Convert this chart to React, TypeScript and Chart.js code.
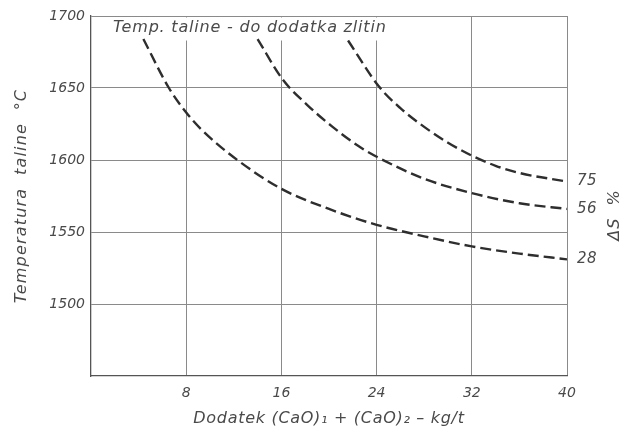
import React, { useEffect, useRef } from 'react';
import { Chart, registerables } from 'chart.js';

Chart.register(...registerables);

// Axis ticks
const xTicks = [8, 16, 24, 32, 40];
const yTicks = [1500, 1550, 1600, 1650, 1700];

// ΔS % curves: addition (kg/t) vs. melt temperature (°C)
const curve28X = [4.4, 6.55, 8, 9.3, 12.3, 16, 20, 24, 28, 32, 36, 40];
const curve28Y = [1684, 1650, 1633, 1621, 1600, 1580, 1566, 1555, 1547, 1540, 1535, 1531];

const curve56X = [14.0, 16.1, 18.2, 20.3, 22.6, 24.3, 28, 32, 36, 40];
const curve56Y = [1684, 1656, 1638, 1623, 1609, 1601, 1587, 1577, 1570, 1566];

const curve75X = [21.6, 24.2, 26.0, 28, 30, 32, 34, 36, 40];
const curve75Y = [1683, 1651, 1636, 1623, 1612, 1603, 1596, 1591, 1585];

const seriesLabels = ['28', '56', '75'];

const headingText = 'Temp. taline - do dodatka zlitin';
const xTitle = 'Dodatek (CaO)\u2081 + (CaO)\u2082 \u2013 kg/t';
const yTitle = 'Temperatura  taline  \u00B0C';
const sideTitle = '\u0394S  %';

const TEXT = '#4a4a4a';
const LINE = '#2e2e2e';
const GRID = '#8a8a8a';
const FONT_FAMILY = '"DejaVu Sans", sans-serif';

const toPoints = (xs: number[], ys: number[]) => xs.map((x, i) => ({ x, y: ys[i] }));

function drawText(
  ctx: any,
  text: string,
  x: number,
  y: number,
  opts: { size: number; spacing: number; align: string; rotate?: boolean },
) {
  ctx.save();
  ctx.fillStyle = TEXT;
  ctx.font = `italic ${opts.size}px ${FONT_FAMILY}`;
  ctx.letterSpacing = `${opts.spacing}px`;
  ctx.textBaseline = 'middle';
  ctx.textAlign = opts.align;
  ctx.translate(x, y);
  if (opts.rotate) ctx.rotate(-Math.PI / 2);
  ctx.fillText(text, 0, 0);
  ctx.restore();
}

const annotations = {
  id: 'annotations',
  beforeDatasetsDraw(chart: any) {
    const { ctx, chartArea } = chart;
    ctx.save();
    // heading sits on a white band that interrupts the grid
    ctx.fillStyle = '#ffffff';
    ctx.fillRect(chartArea.left + 12, chartArea.top + 1.5, 292, 23);
    ctx.restore();
    drawText(ctx, headingText, chartArea.left + 22, chartArea.top + 12, {
      size: 16,
      spacing: 0.8,
      align: 'left',
    });
  },
  afterDraw(chart: any) {
    const { ctx, chartArea, scales } = chart;
    const ends = [curve28Y, curve56Y, curve75Y];
    ends.forEach((ys, i) => {
      const y = scales.y.getPixelForValue(ys[ys.length - 1]);
      drawText(ctx, seriesLabels[i], chartArea.right + 10, y, { size: 15, spacing: 0.5, align: 'left' });
    });

    // side title for the curve labels
    drawText(ctx, sideTitle, chartArea.right + 48, chartArea.top + 199, {
      size: 16,
      spacing: 1,
      align: 'center',
      rotate: true,
    });

    // axis titles
    const cx = (chartArea.left + chartArea.right) / 2;
    const cy = (chartArea.top + chartArea.bottom) / 2;
    drawText(ctx, xTitle, cx, chartArea.bottom + 43, { size: 16, spacing: 0.7, align: 'center' });
    drawText(ctx, yTitle, 22, cy, { size: 16, spacing: 1.2, align: 'center', rotate: true });
  },
};

const dashed = (xs: number[], ys: number[], label: string) => ({
  label,
  data: toPoints(xs, ys),
  showLine: true,
  borderColor: LINE,
  borderWidth: 2.4,
  borderDash: [11, 5],
  pointRadius: 0,
  cubicInterpolationMode: 'monotone' as const,
  fill: false,
});

export default function App() {
  const canvasRef = useRef<HTMLCanvasElement | null>(null);

  useEffect(() => {
    if (!canvasRef.current) return;
    const chart = new Chart(canvasRef.current, {
      type: 'scatter',
      data: {
        datasets: [
          dashed(curve28X, curve28Y, seriesLabels[0]),
          dashed(curve56X, curve56Y, seriesLabels[1]),
          dashed(curve75X, curve75Y, seriesLabels[2]),
        ],
      },
      options: {
        animation: false,
        responsive: false,
        devicePixelRatio: 1,
        layout: { padding: { top: 16, right: 69, left: 0, bottom: 0 } },
        plugins: {
          legend: { display: false },
          tooltip: { enabled: false },
          title: { display: false },
        },
        scales: {
          x: {
            type: 'linear',
            min: 0,
            max: 40,
            afterBuildTicks: (scale: any) => {
              scale.ticks = xTicks.map((v) => ({ value: v }));
            },
            afterFit: (scale: any) => {
              scale.height = 63;
            },
            grid: { color: GRID, lineWidth: 1, drawTicks: false },
            border: { color: '#555555', width: 1.3 },
            ticks: {
              color: TEXT,
              padding: 9,
              font: { family: FONT_FAMILY, size: 14, style: 'italic' },
              callback: (v: any) => String(v),
            },
          },
          y: {
            type: 'linear',
            min: 1450,
            max: 1700,
            afterBuildTicks: (scale: any) => {
              scale.ticks = yTicks.map((v) => ({ value: v }));
            },
            afterFit: (scale: any) => {
              scale.width = 91;
            },
            grid: { color: GRID, lineWidth: 1, drawTicks: false },
            border: { color: '#555555', width: 1.3 },
            ticks: {
              color: TEXT,
              padding: 6,
              font: { family: FONT_FAMILY, size: 14, style: 'italic' },
              callback: (v: any) => String(v),
            },
          },
        },
      },
      plugins: [annotations],
    });
    return () => chart.destroy();
  }, []);

  return (
    <div style={{ position: 'absolute', left: 0, top: 0, width: 636, height: 439, background: '#ffffff' }}>
      <canvas ref={canvasRef} width={636} height={439} style={{ width: 636, height: 439, display: 'block' }} />
    </div>
  );
}
